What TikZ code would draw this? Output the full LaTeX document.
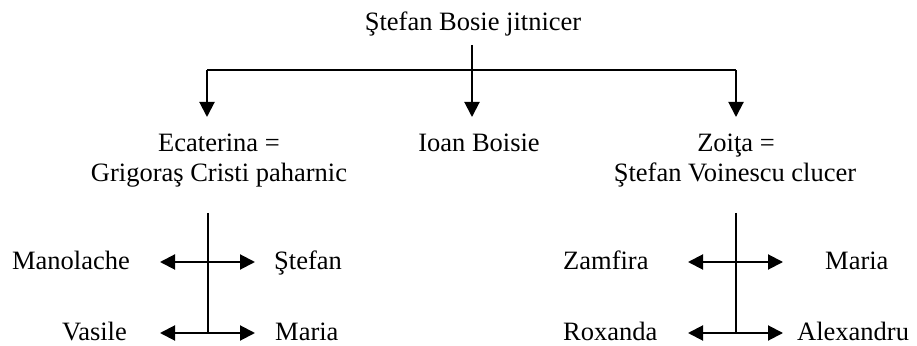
\documentclass[tikz,border=0pt]{standalone}
\usepackage{fontspec}
\setmainfont{Liberation Serif}
\usetikzlibrary{arrows.meta}
\begin{document}
\begin{tikzpicture}[x=1pt,y=1pt,
  lbl/.style={inner sep=0pt, font=\fontsize{26.5}{30.5}\selectfont},
  link/.style={line width=2pt},
  arr/.style={link, -{Triangle[length=15pt,width=15pt]}},
  darr/.style={link, {Triangle[length=15pt,width=15pt]}-{Triangle[length=15pt,width=15pt]}}]
\useasboundingbox (0,0) rectangle (917,345);

% top level
\node[lbl, anchor=base] (root) at (473,314) {Ştefan Bosie jitnicer};
\node[lbl, anchor=base] (ecat) at (219,193) {Ecaterina =};
\node[lbl, anchor=base] (grig) at (219,163) {Grigoraş Cristi paharnic};
\node[lbl, anchor=base] (ioan) at (479,193) {Ioan Boisie};
\node[lbl, anchor=base] (zoita) at (736,193) {Zoiţa =};
\node[lbl, anchor=base] (voin) at (735,163) {Ştefan Voinescu clucer};

\coordinate (rootdrop) at (472,300);
\coordinate (barL) at (207,275);
\coordinate (barR) at (736,275);
\coordinate (tipL) at (207,228);
\coordinate (tipM) at (472,228);
\coordinate (tipR) at (736,228);

\draw[link] (barL) -- (barR);
\draw[arr] (rootdrop) -- (tipM);
\draw[arr] (barL) -- (tipL);
\draw[arr] (barR) -- (tipR);

% left family
\node[lbl, anchor=base east] (manolache) at (130,75) {Manolache};
\node[lbl, anchor=base east] (vasile) at (127,5) {Vasile};
\node[lbl, anchor=base west] (stefan) at (274,75) {Ştefan};
\node[lbl, anchor=base west] (maria1) at (275,5) {Maria};

\coordinate (ltop) at (208,132);
\coordinate (lbot) at (208,12);
\coordinate (l1a) at (160,83);
\coordinate (l1b) at (255,83);
\coordinate (l2a) at (160,12);
\coordinate (l2b) at (255,12);
\draw[link] (ltop) -- (lbot);
\draw[darr] (l1a) -- (l1b);
\draw[darr] (l2a) -- (l2b);

% right family
\node[lbl, anchor=base west] (zamfira) at (563,75) {Zamfira};
\node[lbl, anchor=base west] (roxanda) at (563,5) {Roxanda};
\node[lbl, anchor=base west] (maria2) at (825,75) {Maria};
\node[lbl, anchor=base west] (alexandru) at (797,5) {Alexandru};

\coordinate (rtop) at (736,132);
\coordinate (rbot) at (736,12);
\coordinate (r1a) at (688,83);
\coordinate (r1b) at (783,83);
\coordinate (r2a) at (688,12);
\coordinate (r2b) at (783,12);
\draw[link] (rtop) -- (rbot);
\draw[darr] (r1a) -- (r1b);
\draw[darr] (r2a) -- (r2b);
\end{tikzpicture}
\end{document}
